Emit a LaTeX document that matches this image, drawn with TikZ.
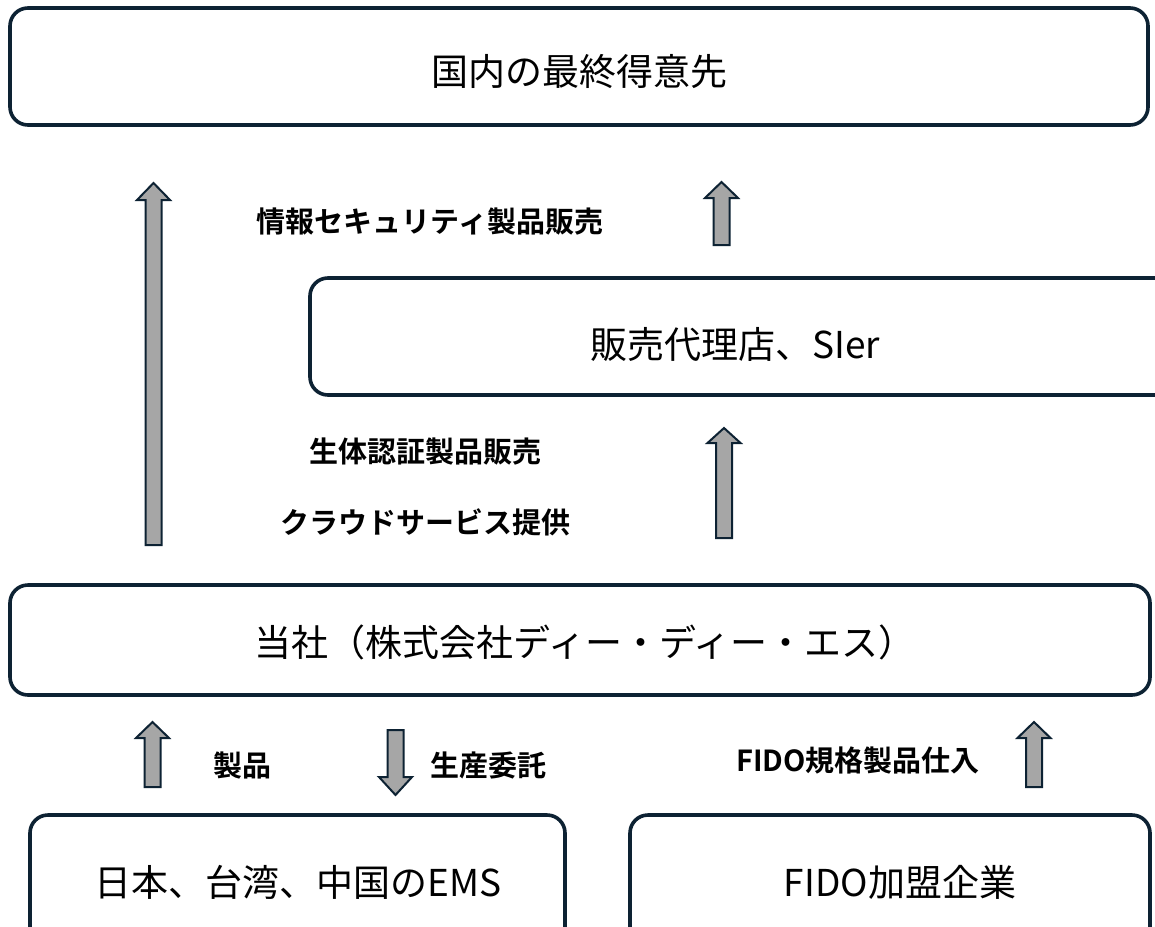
\documentclass[tikz,border=0pt]{standalone}
\usepackage{fontspec}
\newfontfamily\jp{Noto Sans CJK JP}
\newfontfamily\jpb{Noto Sans CJK JP Bold}
\definecolor{edge}{HTML}{0D2233}
\definecolor{shaft}{HTML}{A6A6A6}
\newcommand{\uparr}[4]{% x, top, base, bottom
  \draw[barrow] (#1-8,#4) -- (#1-8,#3) -- (#1-16.5,#3) -- (#1,#2) -- (#1+16.5,#3) -- (#1+8,#3) -- (#1+8,#4) -- cycle;}
\newcommand{\downarr}[4]{% x, top, base, tip
  \draw[barrow] (#1-8,#2) -- (#1-8,#3) -- (#1-16.5,#3) -- (#1,#4) -- (#1+16.5,#3) -- (#1+8,#3) -- (#1+8,#2) -- cycle;}
\begin{document}
\begin{tikzpicture}[x=1pt,y=-1pt,
  box/.style={draw=edge,line width=3.6pt,rounded corners=18pt},
  boxtext/.style={font=\jp\fontsize{37}{40}\selectfont,text=black},
  lab/.style={font=\jpb\fontsize{29}{32}\selectfont,text=black},
  barrow/.style={draw=edge,fill=shaft,line width=2pt,line join=miter}]
\useasboundingbox (0,0) rectangle (1155,926);
\fill[white] (0,0) rectangle (1155,926);
% boxes
\draw[box] (10,8) rectangle (1148,125);
\node[boxtext] (top) at (579,72) {国内の最終得意先};
\draw[box] (310,278) rectangle (1175,395);
\node[boxtext] (dist) at (735,344) {販売代理店、SIer};
\draw[box] (10,585) rectangle (1150,695);
\node[boxtext] (dds) at (585,642) {当社（株式会社ディー・ディー・エス）};
\draw[box] (30,815) rectangle (565,950);
\node[boxtext] (ems) at (298,882) {日本、台湾、中国のEMS};
\draw[box] (630,815) rectangle (1150,950);
\node[boxtext] (fido) at (900,882) {FIDO加盟企業};
% labels
\node[lab] (l1) at (430,222) {情報セキュリティ製品販売};
\node[lab] (l2) at (425,452) {生体認証製品販売};
\node[lab] (l3) at (425,522) {クラウドサービス提供};
\node[lab] (l4) at (242,765) {製品};
\node[lab] (l5) at (488,765) {生産委託};
\node[lab] (l6) at (858,760) {FIDO規格製品仕入};
% arrows
\uparr{153.5}{183}{200}{545}
\uparr{721.5}{182}{198}{245}
\uparr{724}{428}{443}{538}
\uparr{152.5}{722}{738}{787}
\downarr{395.5}{730}{777}{795}
\uparr{1034}{722}{738}{787}
\end{tikzpicture}
\end{document}
